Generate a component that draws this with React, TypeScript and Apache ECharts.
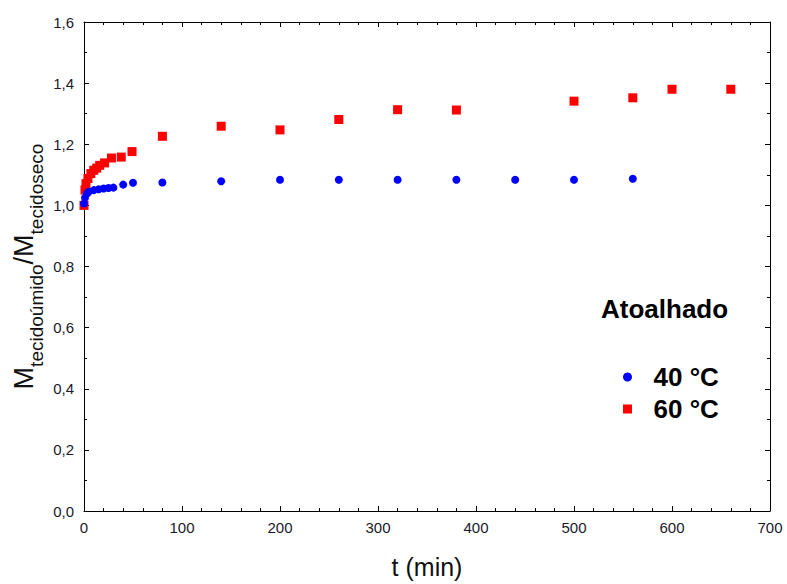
import React, { useEffect, useRef } from "react";
import * as echarts from "echarts";

const t40 = [0, 1, 3, 5, 10, 15, 20, 25, 30, 40, 50, 80, 140, 200, 260, 320, 380, 440, 500, 560];
const v40 = [1.006, 1.025, 1.039, 1.045, 1.05, 1.053, 1.055, 1.057, 1.058, 1.068, 1.074, 1.075, 1.079, 1.084, 1.084, 1.084, 1.084, 1.084, 1.084, 1.087];

const t60 = [0, 1, 2, 4, 7, 10, 13, 16, 21, 28, 38, 49, 80, 140, 200, 260, 320, 380, 500, 560, 600, 660];
const v60 = [1.0, 1.05, 1.071, 1.088, 1.104, 1.115, 1.122, 1.131, 1.139, 1.155, 1.158, 1.176, 1.226, 1.259, 1.247, 1.281, 1.313, 1.312, 1.341, 1.352, 1.38, 1.38];

const xTicks = { min: 0, max: 700, interval: 100 };
const yTicks = { min: 0, max: 1.6, interval: 0.2 };

const seriesNames = ["40 °C", "60 °C"];
const legendTitle = "Atoalhado";

const FONT = "Liberation Sans";

export default function App() {
  const ref = useRef<HTMLDivElement>(null);
  useEffect(() => {
    if (!ref.current) return;
    const chart = echarts.init(ref.current, null, { renderer: "svg" });
    const axisLine = { show: true, onZero: false, lineStyle: { color: "#000", width: 1 } };
    const tick = { show: true, inside: true, length: 5, lineStyle: { color: "#000" } };
    const xBase = {
      type: "value",
      min: xTicks.min,
      max: xTicks.max,
      interval: xTicks.interval,
      axisLine,
      axisTick: tick,
      minorTick: { show: true, splitNumber: 5, length: 3, lineStyle: { color: "#000" } },
      splitLine: { show: false },
      minorSplitLine: { show: false },
    };
    const yBase = {
      type: "value",
      min: yTicks.min,
      max: yTicks.max,
      interval: yTicks.interval,
      axisLine,
      axisTick: tick,
      minorTick: { show: true, splitNumber: 2, length: 3, lineStyle: { color: "#000" } },
      splitLine: { show: false },
      minorSplitLine: { show: false },
    };
    const option = {
      animation: false,
      backgroundColor: "#fff",
      textStyle: { fontFamily: FONT },
      grid: { left: 84, right: 17, top: 22, bottom: 69, containLabel: false },
      xAxis: [
        {
          ...xBase,
          position: "bottom",
          name: "t (min)",
          nameLocation: "middle",
          nameGap: 43,
          nameMoveOverlap: false,
          nameTextStyle: { fontSize: 25, color: "#111", fontFamily: FONT },
          axisLabel: { fontSize: 15, color: "#1a1a2a", margin: 9, fontFamily: FONT },
        },
        { ...xBase, position: "top", axisLabel: { show: false } },
      ],
      yAxis: [
        {
          ...yBase,
          position: "left",
          name: "{m|M}{s|tecidoúmido}{m|/M}{s|tecidoseco}",
          nameLocation: "middle",
          nameRotate: 90,
          nameGap: 38,
          nameMoveOverlap: false,
          nameTextStyle: {
            color: "#111",
            fontFamily: FONT,
            rich: {
              m: { fontSize: 27, fontFamily: FONT, color: "#111", verticalAlign: "top", padding: [0, 0, 9, 0] },
              s: { fontSize: 19, fontFamily: FONT, color: "#111", verticalAlign: "bottom" },
            },
          },
          axisLabel: {
            fontSize: 15,
            color: "#1a1a2a",
            margin: 10,
            fontFamily: FONT,
            formatter: (v: number) => v.toFixed(1).replace(".", ","),
          },
        },
        { ...yBase, position: "right", axisLabel: { show: false } },
      ],
      legend: {
        orient: "vertical",
        left: 618,
        top: 359,
        padding: 5,
        itemWidth: 42,
        itemHeight: 9,
        itemGap: 6,
        symbolKeepAspect: true,
        data: [
          { name: seriesNames[0], icon: "circle" },
          { name: seriesNames[1], icon: "path://M0,0L10,0L10,10L0,10Z" },
        ],
        textStyle: { fontSize: 26, fontWeight: "bold", color: "#000", fontFamily: FONT },
      },
      graphic: [
        {
          type: "text",
          left: 601,
          top: 296,
          style: { text: legendTitle, font: `bold 26px "${FONT}"`, fill: "#000" },
        },
      ],
      series: [
        {
          name: seriesNames[1],
          type: "scatter",
          symbol: "rect",
          symbolSize: 9,
          itemStyle: { color: "#ff0000", opacity: 1 },
          data: t60.map((t, i) => [t, v60[i]]),
          z: 2,
        },
        {
          name: seriesNames[0],
          type: "scatter",
          symbol: "circle",
          symbolSize: 8,
          itemStyle: { color: "#0000ff", opacity: 1 },
          data: t40.map((t, i) => [t, v40[i]]),
          z: 3,
        },
      ],
    };
    chart.setOption(option as any);
    return () => chart.dispose();
  }, []);
  return (
    <div
      ref={ref}
      style={{ position: "absolute", left: 0, top: 0, width: 787, height: 584 }}
    />
  );
}
